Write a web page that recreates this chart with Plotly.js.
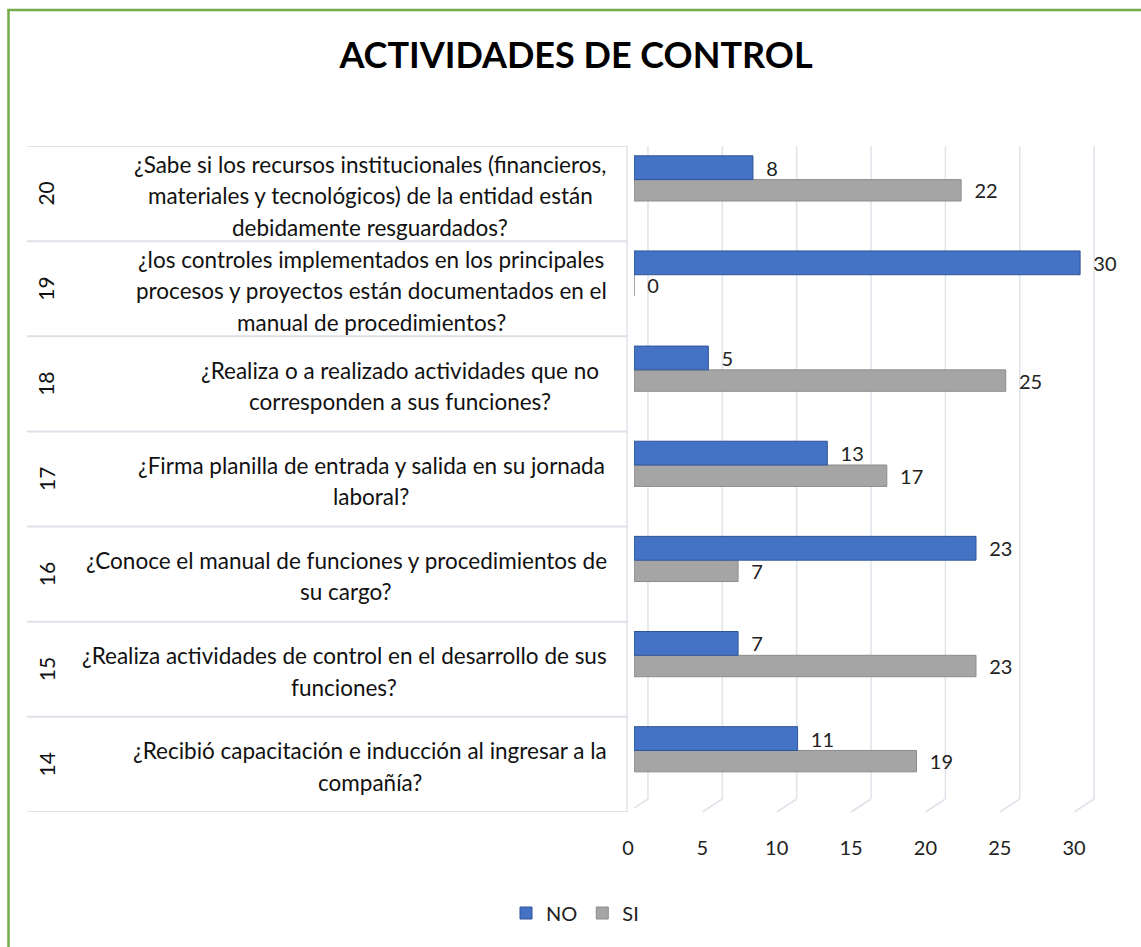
<!DOCTYPE html>
<html>
<head>
<meta charset="utf-8">
<script src="https://cdn.plot.ly/plotly-3.0.1.min.js"></script>
<style>html,body{margin:0;padding:0;background:#fff;}</style>
</head>
<body>
<div id="chart" style="width:1141px;height:947px;"></div>
<script>
// ---- data ----
const categories = ['14', '15', '16', '17', '18', '19', '20'];
const questions = [
  '¿Recibió capacitación e inducción al ingresar a la<br>compañía?',
  '¿Realiza actividades de control en el desarrollo de sus<br>funciones?',
  '¿Conoce el manual de funciones y procedimientos de<br>su cargo?',
  '¿Firma planilla de entrada y salida en su jornada<br>laboral?',
  '¿Realiza o a realizado actividades que no<br>corresponden a sus funciones?',
  '¿los controles implementados en los principales<br>procesos y proyectos están documentados en el<br>manual de procedimientos?',
  '¿Sabe si los recursos institucionales (financieros,<br>materiales y tecnológicos) de la entidad están<br>debidamente resguardados?'
];
const noValues = [11, 7, 23, 13, 5, 30, 8];
const siValues = [19, 23, 7, 17, 25, 0, 22];
const tickValues = [0, 5, 10, 15, 20, 25, 30];
const seriesNames = ['NO', 'SI'];
const chartTitle = 'ACTIVIDADES DE CONTROL';

// ---- layout helpers (pixel geometry) ----
const W = 1141, H = 947;
const PL = 634, PR = 1102, PT = 146, PB = 812;
const px = x => (x - PL) / (PR - PL);
const py = y => (PB - y) / (PB - PT);
const labelCenters = [370, 344, 346, 371, 400, 371, 370];
const FONT = 'Lato, "Open Sans", sans-serif';
const DEPTH = 0.94; // back wall offset, axis units

const traces = [
  {
    type: 'bar', orientation: 'h', name: seriesNames[1],
    y: categories, x: siValues,
    offset: -0.078, width: 0.225,
    marker: {color: '#A5A5A5', line: {color: '#8C8C8C', width: 1}},
    text: siValues.map(String), texttemplate: '\u00a0\u00a0%{x}',
    textposition: 'outside', constraintext: 'none', cliponaxis: false,
    textfont: {family: FONT, size: 20, color: '#222'},
    legendrank: 2, hoverinfo: 'x+name'
  },
  {
    type: 'bar', orientation: 'h', name: seriesNames[0],
    y: categories, x: noValues,
    offset: 0.147, width: 0.25,
    marker: {color: '#4472C4', line: {color: '#2F5597', width: 1}},
    text: noValues.map(String), texttemplate: '\u00a0\u00a0%{x}',
    textposition: 'outside', constraintext: 'none', cliponaxis: false,
    textfont: {family: FONT, size: 20, color: '#222'},
    legendrank: 1, hoverinfo: 'x+name'
  }
];

const shapes = [];
const annotations = [];

// back-wall grid lines and floor slants
tickValues.forEach(v => {
  shapes.push({type: 'line', xref: 'x', yref: 'paper', layer: 'below',
    x0: v + DEPTH, x1: v + DEPTH, y0: py(799), y1: 1,
    line: {color: '#DFE3EA', width: 1.5}});
  shapes.push({type: 'line', xref: 'x', yref: 'paper', layer: 'below',
    x0: v + DEPTH, x1: v - 0.4, y0: py(799), y1: py(812),
    line: {color: '#DFE3EA', width: 1.5}});
});
// front wall line
shapes.push({type: 'line', xref: 'paper', yref: 'paper', layer: 'below',
  x0: px(627), x1: px(627), y0: 0, y1: 1, line: {color: '#DFE3EA', width: 1.5}});
// category separators
for (let i = 0; i <= categories.length; i++) {
  shapes.push({type: 'line', xref: 'paper', yref: 'y', layer: 'below',
    x0: px(27), x1: px(628), y0: i - 0.5, y1: i - 0.5,
    line: {color: '#DDE1E8', width: 2}});
}
// green frame
shapes.push({type: 'line', xref: 'paper', yref: 'paper',
  x0: px(8.5), x1: px(8.5), y0: py(9), y1: py(960), line: {color: '#70AD47', width: 2.5}});
shapes.push({type: 'line', xref: 'paper', yref: 'paper',
  x0: px(7.5), x1: px(1160), y0: py(10), y1: py(10), line: {color: '#70AD47', width: 2.5}});

// category labels (positioned by category index on the y axis)
categories.forEach((c, i) => {
  annotations.push({xref: 'paper', yref: 'y', x: px(46), y: i, text: c,
    textangle: -90, showarrow: false, xanchor: 'center', yanchor: 'middle',
    font: {family: FONT, size: 21, color: '#111'}});
  const lines = questions[i].split('<br>');
  const n = lines.length;
  lines.forEach((ln, j) => {
    annotations.push({xref: 'paper', yref: 'y', x: px(labelCenters[i]), y: i,
      text: ln, showarrow: false, xanchor: 'center', yanchor: 'middle',
      yshift: ((n - 1) / 2 - j) * 31.5 - 2,
      font: {family: FONT, size: 22.5, color: '#111'}});
  });
});

const layout = {
  width: W, height: H, autosize: false,
  margin: {l: PL, r: W - PR, t: PT, b: H - PB, pad: 0},
  paper_bgcolor: '#ffffff', plot_bgcolor: 'rgba(0,0,0,0)',
  font: {family: FONT, size: 20, color: '#222'},
  title: {text: '<b>' + chartTitle + '</b>', xref: 'container', x: 576 / W, xanchor: 'center',
    yref: 'container', y: 1 - 55 / H, yanchor: 'middle',
    font: {family: FONT, size: 36, color: '#000'}},
  barmode: 'overlay',
  xaxis: {range: [0, (PR - PL) / 14.87], tickvals: tickValues, ticktext: tickValues.map(String),
    showgrid: false, zeroline: false, showline: false, ticks: '',
    ticklabelshift: -6, ticklabelstandoff: 22,
    tickfont: {family: FONT, size: 20, color: '#222'}, fixedrange: true},
  yaxis: {type: 'category', categoryorder: 'array', categoryarray: categories,
    range: [-0.5, categories.length - 0.5],
    showticklabels: false, showgrid: false, zeroline: false, showline: false, ticks: '', fixedrange: true},
  showlegend: true,
  legend: {orientation: 'h', x: px(575), xanchor: 'center', y: py(913), yanchor: 'middle',
    font: {family: FONT, size: 20, color: '#222'}, traceorder: 'normal', itemwidth: 30},
  shapes: shapes,
  annotations: annotations
};

Plotly.newPlot('chart', traces, layout, {displayModeBar: false, staticPlot: true});
</script>
</body>
</html>
